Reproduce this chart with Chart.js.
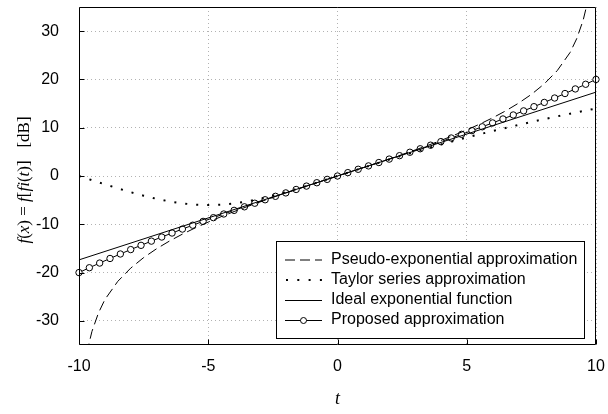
<!DOCTYPE html>
<html>
<head>
<meta charset="utf-8">
<script src="https://cdn.jsdelivr.net/npm/chart.js@4.4.0/dist/chart.umd.min.js"></script>
<style>
  html, body { margin: 0; padding: 0; background: #fff; }
  #wrap { width: 608px; height: 414px; }
</style>
</head>
<body>
<div id="wrap"><canvas id="chart" width="608" height="414"></canvas></div>
<script>
// Approximations of the exponential, in dB, against t

// Taylor series (step 0.5)
const taylorT = [-10, -9.5, -9, -8.5, -8, -7.5, -7, -6.5, -6, -5.5, -5, -4.5, -4, -3.5, -3, -2.5, -2, -1.5, -1, -0.5,
  0, 0.5, 1, 1.5, 2, 2.5, 3, 3.5, 4, 4.5, 5, 5.5, 6, 6.5, 7, 7.5, 8, 8.5, 9, 9.5, 10];
const taylorDb = [0.00, -0.87, -1.72, -2.56, -3.35, -4.08, -4.73, -5.27, -5.68, -5.93, -6.02, -5.93, -5.68, -5.27, -4.73, -4.08, -3.35, -2.56, -1.72, -0.87,
  0.00, 0.87, 1.73, 2.57, 3.41, 4.22, 5.01, 5.78, 6.53, 7.25, 7.96, 8.64, 9.31, 9.95, 10.58, 11.19, 11.78, 12.35, 12.91, 13.45, 13.98];

// Pseudo-exponential (blows up near +-10)
const pseudoT = [-9.9, -9.7, -9.5, -9.25, -9, -8.5, -8, -7.5, -7, -6.5, -6, -5.5, -5, -4.5, -4, -3.5, -3, -2.5, -2, -1.5, -1, -0.5,
  0, 0.5, 1, 1.5, 2, 2.5, 3, 3.5, 4, 4.5, 5, 5.5, 6, 6.5, 7, 7.5, 8, 8.5, 9, 9.25, 9.5, 9.7, 9.9];
const pseudoDb = [-45.98, -36.6, -32.2, -28.4, -25.6, -21.82, -19.08, -16.90, -15.07, -13.47, -12.04, -10.74, -9.54, -8.42, -7.36, -6.35, -5.38, -4.44, -3.52, -2.63, -1.74, -0.87,
  0.00, 0.87, 1.74, 2.63, 3.52, 4.44, 5.38, 6.35, 7.36, 8.42, 9.54, 10.74, 12.04, 13.47, 15.07, 16.90, 19.08, 21.82, 25.6, 28.4, 32.2, 36.6, 45.98];

// Ideal exponential (straight line in dB)
const idealT = [-10, 10];
const idealDb = [-17.37, 17.37];

// Proposed approximation (markers every 0.4)
const propT = [-10, -9.6, -9.2, -8.8, -8.4, -8, -7.6, -7.2, -6.8, -6.4, -6, -5.6, -5.2, -4.8, -4.4, -4, -3.6, -3.2, -2.8, -2.4, -2, -1.6, -1.2, -0.8, -0.4,
  0, 0.4, 0.8, 1.2, 1.6, 2, 2.4, 2.8, 3.2, 3.6, 4, 4.4, 4.8, 5.2, 5.6, 6, 6.4, 6.8, 7.2, 7.6, 8, 8.4, 8.8, 9.2, 9.6, 10];
const propDb = [-20.00, -19.00, -18.03, -17.08, -16.15, -15.24, -14.36, -13.49, -12.64, -11.81, -10.99, -10.19, -9.40, -8.63, -7.87, -7.12, -6.38, -5.64, -4.92, -4.21, -3.50, -2.79, -2.09, -1.39, -0.70,
  0.00, 0.70, 1.39, 2.09, 2.79, 3.50, 4.21, 4.92, 5.64, 6.38, 7.12, 7.87, 8.63, 9.40, 10.19, 10.99, 11.81, 12.64, 13.49, 14.36, 15.24, 16.15, 17.08, 18.03, 19.00, 20.00];

const xTickValues = [-10, -5, 0, 5, 10];
const yTickValues = [-30, -20, -10, 0, 10, 20, 30];

const legendLabels = [
  'Pseudo-exponential approximation',
  'Taylor series approximation',
  'Ideal exponential function',
  'Proposed approximation'
];

const yTitleParts = [
  ['f', true], ['(', false], ['x', true], [') = ', false], ['f', true], ['[', false],
  ['fi', true], ['(', false], ['t', true], [')]', false], ['   [dB]', false]
];

const toXY = (xs, ys) => xs.map((x, i) => ({ x: x, y: ys[i] }));

const serif = '"Liberation Serif", "Times New Roman", serif';
const sans = '"Liberation Sans", Arial, sans-serif';

// --- frame, inward ticks, legend and axis titles ---
const decorPlugin = {
  id: 'decor',
  afterDatasetsDraw(chart) {
    const { ctx, chartArea: a, scales } = chart;
    const L = Math.round(a.left) + 0.5, R = Math.round(a.right) - 0.5;
    const T = Math.round(a.top) + 0.5, B = Math.round(a.bottom) - 0.5;
    ctx.save();
    ctx.strokeStyle = '#000';
    ctx.lineWidth = 1;
    ctx.beginPath();
    ctx.moveTo(L, T); ctx.lineTo(R, T); ctx.lineTo(R, B); ctx.lineTo(L, B); ctx.closePath();
    yTickValues.forEach(v => {
      const y = Math.round(scales.y.getPixelForValue(v)) + 0.5;
      ctx.moveTo(L, y); ctx.lineTo(L + 5, y);
    });
    xTickValues.forEach(v => {
      const x = Math.round(scales.x.getPixelForValue(v)) + 0.5;
      ctx.moveTo(x, B); ctx.lineTo(x, B - 5);
    });
    ctx.stroke();

    // legend box
    const bx = 276.5, by = 241.5, bw = 308, bh = 97;
    ctx.fillStyle = '#fff';
    ctx.fillRect(bx, by, bw, bh);
    ctx.strokeRect(bx, by, bw, bh);
    ctx.font = '16px ' + sans;
    ctx.fillStyle = '#000';
    ctx.textBaseline = 'middle';
    legendLabels.forEach((label, i) => {
      const y = 260 + i * 20;
      const x1 = 285, x2 = 322;
      ctx.save();
      ctx.beginPath();
      if (i === 0) {
        ctx.setLineDash([10, 5]);
        ctx.moveTo(x1, y); ctx.lineTo(x2, y); ctx.stroke();
      } else if (i === 1) {
        for (let k = 0; k < 4; k++) ctx.fillRect(286 + k * 11.3, y - 1, 2, 2);
      } else if (i === 2) {
        ctx.moveTo(x1, y + 0.5); ctx.lineTo(x2, y + 0.5); ctx.stroke();
      } else {
        ctx.moveTo(x1, y + 0.5); ctx.lineTo(x2, y + 0.5); ctx.stroke();
        ctx.beginPath();
        ctx.arc((x1 + x2) / 2, y + 0.5, 3, 0, Math.PI * 2);
        ctx.fillStyle = '#fff'; ctx.fill(); ctx.stroke();
      }
      ctx.restore();
      ctx.fillText(label, 331, y);
    });
    ctx.restore();
  },
  afterDraw(chart) {
    const { ctx, chartArea: a } = chart;
    ctx.save();
    ctx.fillStyle = '#000';
    ctx.textBaseline = 'middle';
    ctx.textAlign = 'center';
    ctx.font = 'italic 18px ' + serif;
    ctx.fillText('t', (a.left + a.right) / 2, 399);

    // rotated y title with mixed italic parts
    ctx.translate(25, 180);
    ctx.rotate(-Math.PI / 2);
    ctx.textAlign = 'left';
    const fontOf = p => (p[1] ? 'italic ' : '') + '17px ' + serif;
    let total = 0;
    yTitleParts.forEach(p => { ctx.font = fontOf(p); total += ctx.measureText(p[0]).width; });
    let x = -total / 2;
    yTitleParts.forEach(p => {
      ctx.font = fontOf(p);
      ctx.fillText(p[0], x, 0);
      x += ctx.measureText(p[0]).width;
    });
    ctx.restore();
  }
};

const gridColor = 'rgba(0,0,0,0.3)';

new Chart(document.getElementById('chart'), {
  type: 'scatter',
  data: {
    datasets: [
      {
        label: legendLabels[0],
        data: toXY(pseudoT, pseudoDb),
        showLine: true, borderColor: '#000', borderWidth: 1,
        borderDash: [10, 5], pointRadius: 0, tension: 0, clip: 0
      },
      {
        label: legendLabels[1],
        data: toXY(taylorT, taylorDb),
        showLine: true, borderColor: '#000', borderWidth: 2,
        borderDash: [2, 9], borderCapStyle: 'butt', pointRadius: 0, tension: 0
      },
      {
        label: legendLabels[2],
        data: toXY(idealT, idealDb),
        showLine: true, borderColor: '#000', borderWidth: 1, pointRadius: 0
      },
      {
        label: legendLabels[3],
        data: toXY(propT, propDb),
        showLine: true, borderColor: '#000', borderWidth: 1,
        pointRadius: 3.2, pointBorderWidth: 1, pointBackgroundColor: '#fff',
        pointBorderColor: '#000', clip: 6
      }
    ]
  },
  options: {
    responsive: false,
    animation: false,
    layout: { padding: { top: 7, right: 12, left: 0, bottom: 0 } },
    plugins: { legend: { display: false }, tooltip: { enabled: false } },
    scales: {
      x: {
        type: 'linear', min: -10, max: 10,
        afterBuildTicks: s => { s.ticks = xTickValues.map(v => ({ value: v })); },
        afterFit: s => { s.height = 69; s.paddingLeft = 0; s.paddingRight = 0; },
        ticks: { color: '#000', font: { family: sans, size: 16 }, padding: 12, maxRotation: 0 },
        grid: { color: gridColor, drawTicks: false },
        border: { display: false, dash: [1, 3] }
      },
      y: {
        type: 'linear', min: -35, max: 35,
        afterBuildTicks: s => { s.ticks = yTickValues.map(v => ({ value: v })); },
        afterFit: s => { s.width = 79; s.paddingTop = 0; s.paddingBottom = 0; },
        ticks: { color: '#000', font: { family: sans, size: 16 }, padding: 20 },
        grid: { color: gridColor, drawTicks: false },
        border: { display: false, dash: [1, 3] }
      }
    }
  },
  plugins: [decorPlugin]
});
</script>
</body>
</html>
